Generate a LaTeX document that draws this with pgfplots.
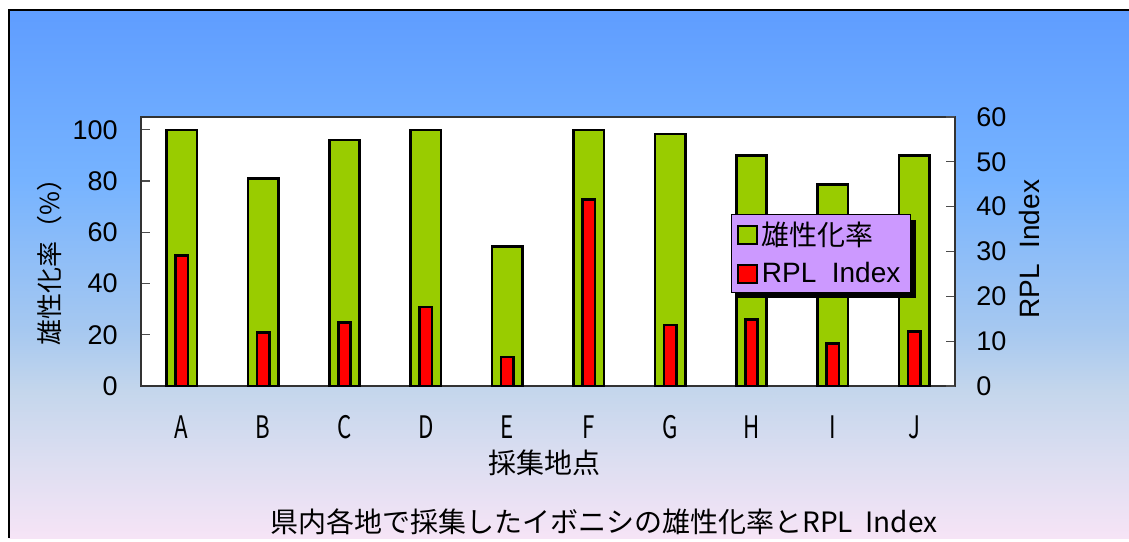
\documentclass[border=0pt]{standalone}
\usepackage{fontspec}
\setmainfont{Liberation Sans}
\newfontfamily\jp{Noto Sans CJK JP}
\usepackage{graphicx}
\usepackage{pgfplots}
\pgfplotsset{compat=1.18}
\usetikzlibrary{shadows}
\definecolor{barG}{HTML}{99CC00}
\definecolor{barR}{HTML}{FF0000}
\definecolor{legbg}{HTML}{CC99FF}
\definecolor{cA}{RGB}{95,157,255}
\definecolor{cAb}{RGB}{118,179,255}
\definecolor{cB}{RGB}{166,200,240}
\definecolor{cC}{RGB}{196,214,236}
\definecolor{cD}{RGB}{220,222,241}
\definecolor{cE}{RGB}{246,228,246}
\pgfdeclareverticalshading{bgshade}{100bp}{color(0bp)=(cE); color(25bp)=(cE); color(32.4bp)=(cD); color(39bp)=(cC); color(44.7bp)=(cB); color(58.9bp)=(cAb); color(75bp)=(cA); color(100bp)=(cA)}
\newcommand{\nl}[1]{\scalebox{0.72}[1]{#1}}
\makeatletter
\tikzset{nopre/.code={\let\tikz@preactions\pgfutil@empty\let\tikz@postactions\pgfutil@empty}}
\makeatother
\pgfplotsset{sqlegend/.style={legend image code/.code={\draw[##1,nopre,line width=1pt] (0pt,-4.6pt) rectangle (9.2pt,4.6pt);}}}
\begin{document}
\begin{tikzpicture}
\begin{scope}[x=0.5pt,y=0.5pt]
\useasboundingbox (0,0) rectangle (1129,538);
\fill[white] (0,0) rectangle (1129,538);
\shade[shading=bgshade] (9,0) rectangle (1129,528);
\draw[line width=1pt] (9,0) -- (9,528) -- (1129,528);
\end{scope}
\begin{axis}[
  at={(70.5pt,76pt)}, anchor=south west,
  width=407pt, height=134.5pt, scale only axis,
  ybar, bar width=15.2pt,
  xmin=-0.5, xmax=9.5, ymin=0, ymax=105,
  xtick={0,...,9},
  xticklabels={\nl{A},\nl{B},\nl{C},\nl{D},\nl{E},\nl{F},\nl{G},\nl{H},\nl{I},\nl{J}},
  xticklabel style={font=\jp\fontsize{15.5}{17}\selectfont, inner sep=0pt, yshift=-14.5pt},
  major x tick style={draw=none},
  ytick={0,20,...,100}, ytick pos=left, tick align=inside,
  major tick length=4.5pt,
  yticklabel style={font=\fontsize{13.5}{15}\selectfont, inner sep=0pt, xshift=-11.5pt},
  /pgf/number format/assume math mode=true,
  axis background/.style={fill=white},
  axis line style={draw=black!80, line width=0.6pt},
  tick style={draw=black!70, line width=0.6pt},
  ylabel={\jp 雄性化率（\%）},
  ylabel style={font=\fontsize{13}{15}\selectfont, at={(axis description cs:-0.1118,0.484)}, anchor=center, rotate=0},
  xlabel={\jp 採集地点},
  xlabel style={font=\fontsize{14}{16}\selectfont, at={(axis description cs:0.4963,-0.286)}, anchor=center},
]
\addplot[fill=barG, draw=black, line width=1.3pt, sqlegend] coordinates {
(0,100) (1,81) (2,96) (3,100) (4,54.4) (5,100) (6,98.3) (7,90) (8,78.6) (9,90)};
\end{axis}
\begin{axis}[
  at={(70.5pt,76pt)}, anchor=south west,
  width=407pt, height=134.5pt, scale only axis,
  ybar, bar width=6.2pt,
  xmin=-0.5, xmax=9.5, ymin=0, ymax=60,
  hide x axis,
  axis y line*=right,
  ytick={0,10,...,60}, tick align=inside,
  major tick length=4.5pt,
  yticklabel style={font=\fontsize{13.5}{15}\selectfont, inner sep=0pt, xshift=10.5pt},
  /pgf/number format/assume math mode=true,
  axis line style={draw=black!80, line width=0.6pt},
  tick style={draw=black!70, line width=0.6pt},
  ylabel={RPL\ \ Index},
  ylabel style={font=\fontsize{14}{16}\selectfont, at={(axis description cs:1.0921,0.509)}, anchor=center},
  legend style={at={(axis description cs:0.7248,0.6394)}, anchor=north west, fill=legbg, draw=black, line width=0.5pt,
    font=\fontsize{14}{16}\selectfont, drop shadow={fill=black, opacity=1, shadow xshift=3pt, shadow yshift=-2.75pt},
    inner xsep=3pt, inner ysep=1.5pt, row sep=3pt, cells={anchor=west}},
]
\addlegendimage{fill=barG, draw=black, sqlegend}
\addlegendentry{\jp 雄性化率}
\addplot[fill=barR, draw=black, line width=1.3pt, sqlegend] coordinates {
(0,29.1) (1,11.9) (2,14.2) (3,17.6) (4,6.5) (5,41.6) (6,13.6) (7,14.9) (8,9.5) (9,12.1)};
\addlegendentry{RPL\ \ Index}
\end{axis}
\node[font=\jp\fontsize{14}{16}\selectfont] at (302pt,8pt) {県内各地で採集したイボニシの雄性化率とRPL\ \ Index};
\end{tikzpicture}
\end{document}
